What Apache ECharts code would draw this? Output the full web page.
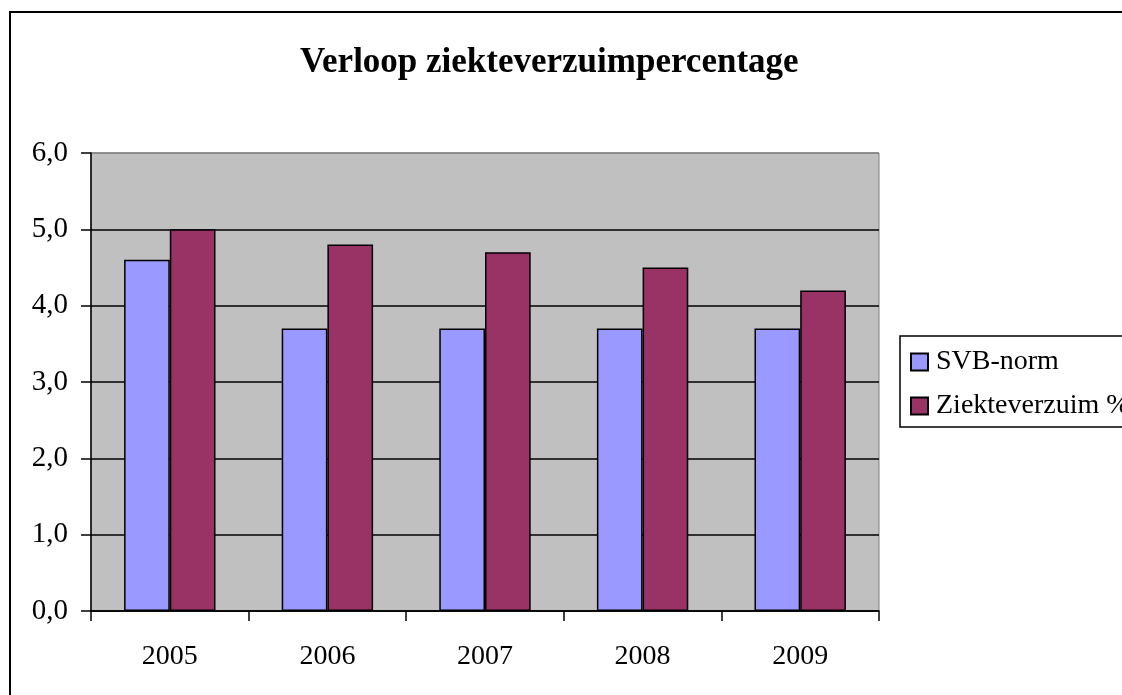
<!DOCTYPE html>
<html>
<head>
<meta charset="utf-8">
<script src="https://cdn.jsdelivr.net/npm/echarts@6/dist/echarts.min.js"></script>
<style>
html,body{margin:0;padding:0;background:#fff;}
#c{width:1122px;height:695px;}
</style>
</head>
<body>
<div id="c"></div>
<script>
const titleText = 'Verloop ziekteverzuimpercentage';
const years = ['2005', '2006', '2007', '2008', '2009'];
const svbNorm = [4.6, 3.7, 3.7, 3.7, 3.7];
const ziekteverzuim = [5.0, 4.8, 4.7, 4.5, 4.2];
const seriesNames = ['SVB-norm', 'Ziekteverzuim %'];
const yMin = 0, yMax = 6, yStep = 1;

const FONT = '"Liberation Serif", "Times New Roman", serif';
const splitColors = [];
for (let v = yMin; v <= yMax; v += yStep) splitColors.push(v === yMax ? '#808080' : '#000');

const chart = echarts.init(document.getElementById('c'), null, {renderer: 'canvas'});
chart.setOption({
  animation: false,
  backgroundColor: '#ffffff',
  title: {
    text: titleText,
    left: 295,
    top: 40,
    textStyle: {fontFamily: FONT, fontSize: 35, fontWeight: 'bold', color: '#000'}
  },
  graphic: [{
    type: 'rect',
    shape: {x: 10, y: 12, width: 1300, height: 900},
    style: {fill: 'none', stroke: '#000', lineWidth: 2},
    silent: true,
    z: -10
  }],
  legend: {
    orient: 'vertical',
    left: 900,
    top: 336,
    padding: [12, 300, 7, 10],
    itemWidth: 17,
    itemHeight: 17,
    itemGap: 16,
    borderColor: '#000',
    borderWidth: 1.5,
    backgroundColor: '#fff',
    icon: 'rect',
    textStyle: {fontFamily: FONT, fontSize: 28, color: '#000', padding: [0, 0, 0, 3]},
    data: seriesNames
  },
  grid: {
    left: 91, top: 153, right: 243, bottom: 84,
    show: true,
    backgroundColor: '#C0C0C0',
    borderColor: '#808080',
    borderWidth: 1
  },
  xAxis: {
    type: 'category',
    data: years,
    axisLine: {lineStyle: {color: '#000', width: 1.5}},
    axisTick: {show: true, length: 10, inside: false, lineStyle: {color: '#000', width: 1.5}},
    axisLabel: {fontFamily: FONT, fontSize: 28, color: '#000', margin: 32}
  },
  yAxis: {
    type: 'value',
    min: yMin, max: yMax, interval: yStep,
    axisLine: {show: true, lineStyle: {color: '#000', width: 1.5}},
    axisTick: {show: true, length: 10, lineStyle: {color: '#000', width: 1.5}},
    splitLine: {show: true, lineStyle: {color: splitColors, width: 1.5}},
    axisLabel: {
      fontFamily: FONT, fontSize: 29, color: '#000', margin: 23,
      formatter: v => v.toFixed(1).replace('.', ',')
    }
  },
  series: [
    {
      name: seriesNames[0], type: 'bar', data: svbNorm,
      barGap: '0%', barCategoryGap: '42%',
      itemStyle: {color: '#9999FF', borderColor: '#000', borderWidth: 1.5}
    },
    {
      name: seriesNames[1], type: 'bar', data: ziekteverzuim,
      barGap: '0%', barCategoryGap: '42%',
      itemStyle: {color: '#993366', borderColor: '#000', borderWidth: 1.5}
    }
  ]
});
</script>
</body>
</html>
